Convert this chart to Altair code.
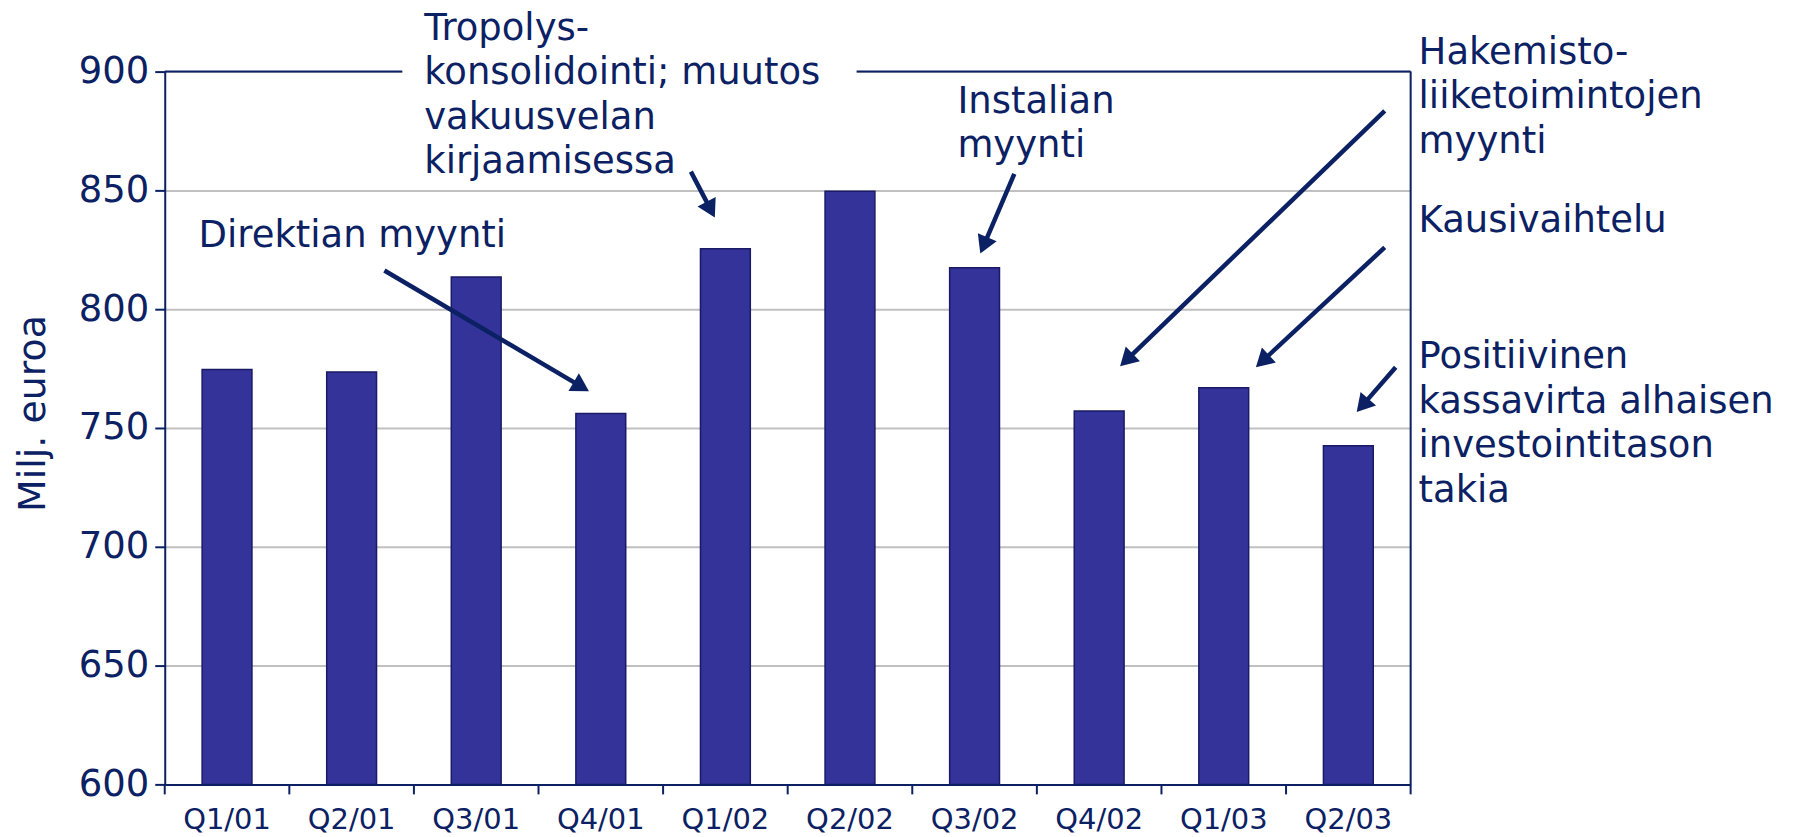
import math
import altair as alt
import pandas as pd

# ---- data ----
quarters = ["Q1/01", "Q2/01", "Q3/01", "Q4/01", "Q1/02", "Q2/02", "Q3/02", "Q4/02", "Q1/03", "Q2/03"]
values = [774.6, 773.6, 813.5, 756.1, 825.4, 849.6, 817.4, 757.2, 766.9, 742.5]
y_ticks = [600, 650, 700, 750, 800, 850, 900]

# annotation texts, anchored in (category-units, value) coordinates
note_texts = [
    "Tropolys-\nkonsolidointi; muutos\nvakuusvelan\nkirjaamisessa",
    "Direktian myynti",
    "Instalian\nmyynti",
    "Hakemisto-\nliiketoimintojen\nmyynti",
    "Kausivaihtelu",
    "Positiivinen\nkassavirta alhaisen\ninvestointitason\ntakia",
]
note_u = [2.083, 0.272, 6.362, 10.064, 10.064, 10.064]
note_v = [913.4, 826.1, 882.7, 903.2, 832.3, 775.1]

# arrows: start (u1, v1) -> tip (u2, v2)
arrow_u1 = [1.763, 4.223, 6.819, 9.792, 9.792, 9.880]
arrow_v1 = [816.3, 857.9, 857.0, 883.5, 826.0, 775.6]
arrow_u2 = [3.405, 4.415, 6.546, 7.668, 8.758, 9.567]
arrow_v2 = [765.5, 838.6, 823.4, 776.0, 775.6, 756.7]

# gap in the top frame line behind the Tropolys note
gap_u = [1.907, 5.553]

# ---- styling ----
NAVY = "#0b2163"
BAR = "#333399"
FONT = "DejaVu Sans"
W, H = 1248, 714
Y_MIN, Y_MAX = 600, 900
N = len(quarters)
HEAD_SIZE = 420
TICK_PX = 10

px_u = W / N
px_v = H / (Y_MAX - Y_MIN)

# arrowhead geometry (rotation and centre just behind tip)
head_h = math.sqrt(3) / 2 * math.sqrt(HEAD_SIZE) / 2
rows = []
for a, b, c, d in zip(arrow_u1, arrow_v1, arrow_u2, arrow_v2):
    dx = (c - a) * px_u
    dy = -(d - b) * px_v
    L = math.hypot(dx, dy)
    ux, uy = dx / L, dy / L
    ang = math.degrees(math.atan2(dx, -dy)) % 360
    cu = c - ux * head_h / px_u
    cv = d + uy * head_h / px_v
    rows.append(dict(u1=a, v1=b, u2=cu, v2=cv, ang=ang))
arrows = pd.DataFrame(rows)

bars_df = pd.DataFrame({"quarter": quarters, "value": values})
notes_df = pd.DataFrame({"u": note_u, "v": note_v, "label": note_texts})
frame_df = pd.DataFrame({"u1": [0, N], "u2": [N, N], "v1": [Y_MAX, Y_MIN], "v2": [Y_MAX, Y_MAX]})
cover_df = pd.DataFrame({"u1": [gap_u[0]], "u2": [gap_u[1]], "v1": [896.5], "v2": [903.5]})
# x ticks between categories (category boundaries)
xticks_df = pd.DataFrame({"u": list(range(N + 1))})
xticks_df["v1"] = Y_MIN
xticks_df["v2"] = Y_MIN - TICK_PX / px_v

yscale = alt.Scale(domain=[Y_MIN, Y_MAX], zero=False, nice=False)
uscale = alt.Scale(domain=[0, N], nice=False, zero=False)

bars = alt.Chart(bars_df).mark_bar(color=BAR, stroke="#1a1a66", strokeWidth=1.5).encode(
    x=alt.X("quarter:N", sort=quarters,
            scale=alt.Scale(paddingInner=0.6, paddingOuter=0.3),
            axis=alt.Axis(title=None, labelAngle=0, labelFontSize=29, labelFont=FONT,
                          labelColor=NAVY, labelPadding=11, domainColor=NAVY, domainWidth=2,
                          tickOpacity=0, tickSize=10,
                          grid=False, labelBaseline="top", zindex=1)),
    y=alt.Y("value:Q", scale=yscale,
            axis=alt.Axis(values=y_ticks, title="Milj. euroa", titleFontSize=38, titleFont=FONT,
                          titleFontWeight="normal", titleColor=NAVY, titleAngle=270,
                          titleX=-120, titleY=342, titleAlign="center", titleBaseline="alphabetic",
                          labelFontSize=37, labelFont=FONT, labelColor=NAVY, labelPadding=6,
                          tickSize=10, tickColor=NAVY, tickWidth=2, domainColor=NAVY, domainWidth=2,
                          gridColor="#c0c0c0", gridWidth=2)),
    y2=alt.datum(Y_MIN),
)

frame = alt.Chart(frame_df).mark_rule(color=NAVY, strokeWidth=2).encode(
    x=alt.X("u1:Q", scale=uscale, axis=None), x2="u2:Q",
    y=alt.Y("v1:Q", scale=yscale), y2="v2:Q",
)

xticks = alt.Chart(xticks_df).mark_rule(color=NAVY, strokeWidth=2).encode(
    x=alt.X("u:Q", scale=uscale, axis=None),
    y=alt.Y("v1:Q", scale=yscale), y2="v2:Q",
)

cover = alt.Chart(cover_df).mark_rect(color="white").encode(
    x=alt.X("u1:Q", scale=uscale, axis=None), x2="u2:Q",
    y=alt.Y("v1:Q", scale=yscale), y2="v2:Q",
)

lines = alt.Chart(arrows).mark_rule(color=NAVY, strokeWidth=4.5).encode(
    x=alt.X("u1:Q", scale=uscale, axis=None), x2="u2:Q",
    y=alt.Y("v1:Q", scale=yscale), y2="v2:Q",
)

heads = alt.Chart(arrows).mark_point(shape="triangle-up", filled=True, size=HEAD_SIZE,
                                     color=NAVY, opacity=1).encode(
    x=alt.X("u2:Q", scale=uscale, axis=None),
    y=alt.Y("v2:Q", scale=yscale),
    angle=alt.Angle("ang:Q", scale=None),
)

notes = alt.Chart(notes_df).mark_text(align="left", baseline="alphabetic", fontSize=37,
                                      font=FONT, color=NAVY, lineBreak="\n",
                                      lineHeight=44.5).encode(
    x=alt.X("u:Q", scale=uscale, axis=None),
    y=alt.Y("v:Q", scale=yscale),
    text="label:N",
)

overlay = alt.layer(frame, xticks, cover, lines, heads, notes)

chart = alt.layer(bars, overlay).resolve_scale(x="independent").properties(
    width=W, height=H,
    autosize=alt.AutoSizeParams(type="none"),
    padding={"left": 157, "top": 63, "right": 380, "bottom": 52},
).configure_view(stroke=None).configure(background="white")

chart.save("out.html", embed_options={"renderer": "svg", "actions": False})
